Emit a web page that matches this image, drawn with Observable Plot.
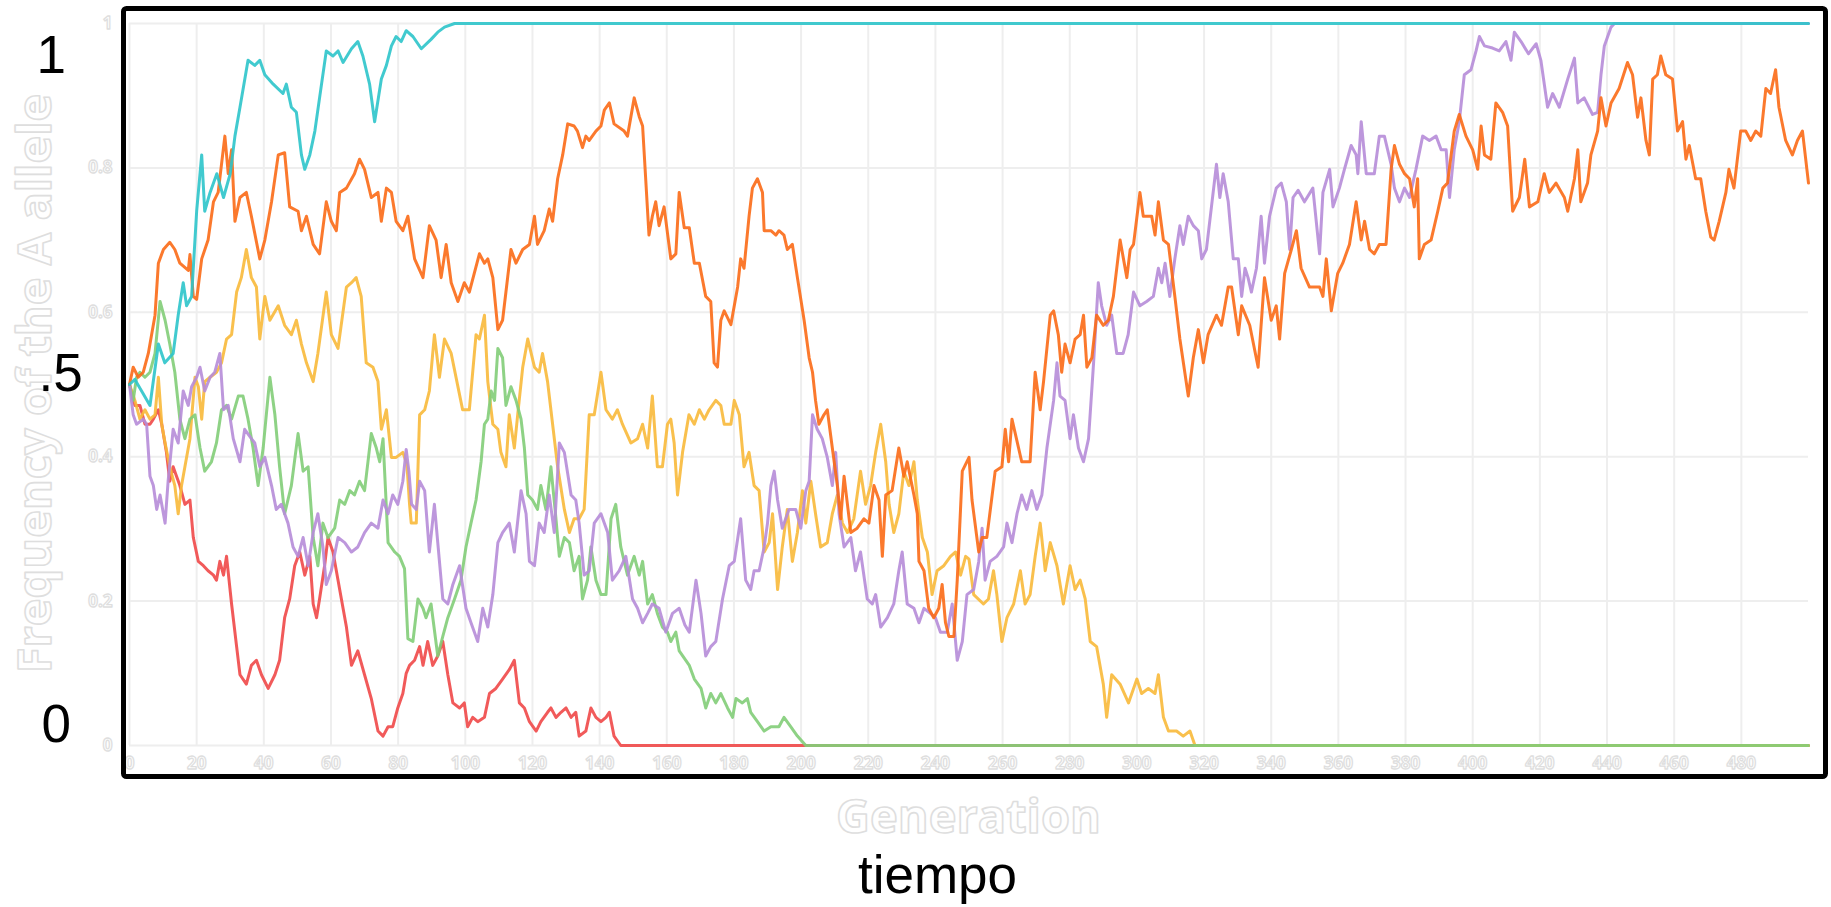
<!DOCTYPE html>
<html>
<head>
<meta charset="utf-8">
<script src="https://cdn.jsdelivr.net/npm/d3@7"></script>
<script src="https://cdn.jsdelivr.net/npm/@observablehq/plot@0.6"></script>
<style>
  html, body { margin: 0; padding: 0; background: #fff; overflow: hidden; }
  #chart svg { display: block; }
</style>
</head>
<body>
<div id="chart"></div>
<script>
// ---- tick labels -------------------------------------------------------
const xTicks = [0,20,40,60,80,100,120,140,160,180,200,220,240,260,280,300,320,340,360,380,400,420,440,460,480];
const yTicks = [0,0.2,0.4,0.6,0.8,1];
const yTickLabels = ["0","0.2","0.4","0.6","0.8","1"];
const bigLabels = ["1", ".5", "0"];          // annotations at y = 1, 0.5, 0
const bigLabelValues = [1, 0.5, 0];
const xTitle = "Generation";
const yTitle = "Frequency of the A allele";
const caption = "tiempo";

// ---- series: [generation, frequency of the A allele] -------------------
const cyan = [[0,0.5],[1.6,0.507],[3.6,0.491],[6.1,0.471],[8.6,0.556],[10.5,0.53],[13,0.543],[14.5,0.596],[16,0.641],[17,0.609],[18.5,0.622],[20,0.74],[21.5,0.818],[22.4,0.74],[24,0.766],[26,0.792],[28,0.759],[30,0.792],[31.4,0.844],[32.9,0.884],[35.3,0.949],[37.3,0.942],[38.8,0.949],[40.3,0.929],[42.8,0.916],[45.7,0.903],[46.7,0.916],[48.2,0.884],[49.7,0.877],[51.2,0.818],[52.2,0.798],[53.7,0.818],[55.2,0.851],[56.6,0.897],[58.6,0.962],[60.6,0.955],[62.1,0.962],[63.6,0.946],[66.1,0.965],[68,0.975],[69.5,0.955],[71.5,0.916],[73,0.864],[75,0.923],[76.5,0.942],[78,0.969],[79.4,0.982],[80.9,0.975],[82.4,0.99],[84.4,0.982],[86.9,0.965],[89.8,0.978],[91.8,0.988],[93.8,0.995],[96.8,1],[500,1]];

const orange = [[0,0.5],[1.1,0.524],[2.6,0.51],[4.1,0.517],[5.6,0.543],[7.6,0.596],[8.6,0.668],[10.1,0.687],[12,0.697],[13.5,0.687],[15,0.668],[17.5,0.658],[18,0.68],[19,0.622],[20,0.618],[21.5,0.674],[23.4,0.7],[25,0.753],[26.4,0.766],[28.4,0.844],[29.4,0.792],[30.4,0.825],[31.4,0.726],[32.9,0.759],[34.8,0.766],[36.3,0.733],[38.8,0.674],[40.3,0.7],[42.3,0.753],[44.3,0.818],[46.2,0.821],[47.7,0.746],[50.2,0.74],[51.2,0.713],[52.7,0.733],[54.7,0.694],[56.6,0.681],[58.6,0.753],[60.1,0.726],[61.6,0.713],[62.6,0.766],[64.6,0.772],[67,0.792],[68.5,0.812],[70,0.798],[72,0.759],[74,0.766],[75,0.726],[76.5,0.772],[78,0.766],[79.4,0.726],[81.4,0.713],[82.9,0.733],[84.9,0.674],[87.4,0.648],[89.3,0.72],[91.3,0.7],[92.8,0.648],[94.3,0.694],[95.8,0.641],[97.8,0.615],[99.7,0.641],[101.2,0.628],[104.2,0.681],[105.7,0.668],[106.7,0.674],[108.2,0.648],[109.7,0.576],[111.1,0.589],[113.6,0.687],[115.1,0.668],[117.1,0.687],[119.1,0.694],[120.6,0.733],[121.5,0.694],[123.5,0.713],[125,0.743],[126,0.726],[127.5,0.785],[129,0.818],[130.5,0.861],[132.4,0.858],[133.4,0.851],[134.9,0.828],[135.9,0.844],[136.9,0.838],[138.9,0.851],[140.4,0.858],[141.4,0.88],[142.9,0.89],[144.3,0.861],[147.3,0.851],[148.3,0.844],[150.3,0.897],[151.8,0.871],[152.8,0.858],[154.7,0.707],[155.7,0.733],[156.7,0.753],[157.7,0.72],[159.2,0.746],[161.2,0.674],[162.7,0.681],[163.7,0.766],[165.2,0.717],[166.7,0.717],[168.2,0.668],[169.7,0.668],[171.6,0.622],[173.1,0.615],[174.1,0.53],[175.1,0.524],[176.1,0.589],[177.1,0.602],[179.1,0.583],[181.1,0.635],[182,0.674],[183,0.661],[184.5,0.733],[185.5,0.772],[187,0.785],[188.5,0.766],[189,0.713],[191,0.713],[192.5,0.707],[193.4,0.713],[194.9,0.707],[195.9,0.687],[197.4,0.694],[198.9,0.648],[200.9,0.589],[202.4,0.537],[203.4,0.517],[204.3,0.478],[205.3,0.445],[206.8,0.458],[207.8,0.465],[209.3,0.412],[210.8,0.36],[211.8,0.314],[212.8,0.373],[213.8,0.334],[214.8,0.295],[216.7,0.301],[218.7,0.314],[220.2,0.308],[221.7,0.36],[223.2,0.34],[224.2,0.262],[225.2,0.347],[227.1,0.353],[229.1,0.412],[230.6,0.373],[231.6,0.393],[233.6,0.347],[234.6,0.321],[235.1,0.255],[236.6,0.242],[238,0.19],[239.5,0.177],[241,0.19],[242,0.223],[243,0.17],[244,0.151],[245.5,0.151],[246.5,0.229],[248,0.38],[250,0.399],[250.9,0.34],[252.9,0.268],[253.9,0.288],[255.3,0.288],[257.8,0.38],[259.8,0.386],[260.8,0.438],[261.8,0.393],[262.8,0.452],[265.7,0.393],[268.2,0.393],[269.7,0.517],[271.2,0.465],[272.2,0.504],[274.2,0.596],[275.2,0.602],[276.6,0.569],[277.6,0.517],[278.6,0.556],[280.1,0.53],[281.6,0.563],[283.1,0.569],[284.1,0.596],[285.1,0.524],[286.6,0.537],[288,0.596],[290,0.582],[291.5,0.589],[293,0.622],[295,0.7],[296,0.674],[297,0.648],[298,0.687],[299,0.694],[300.9,0.766],[301.9,0.733],[304.4,0.733],[305.4,0.707],[306.4,0.753],[307.9,0.7],[309.4,0.694],[311.3,0.622],[312.8,0.563],[315.3,0.484],[316.8,0.537],[318.3,0.576],[319.8,0.53],[321.2,0.569],[323.7,0.596],[325.2,0.582],[327.2,0.635],[328.2,0.635],[330.2,0.569],[331.2,0.609],[333.6,0.582],[336.1,0.524],[338,0.648],[340,0.589],[341.5,0.609],[342.5,0.563],[344,0.654],[346,0.687],[347.5,0.713],[348.9,0.661],[351.4,0.635],[354.4,0.635],[355.4,0.622],[356.4,0.674],[357.9,0.602],[359.8,0.654],[361.3,0.668],[363.3,0.694],[365.3,0.753],[366.8,0.7],[367.8,0.726],[369.3,0.687],[370.7,0.681],[372.2,0.694],[374.2,0.694],[375.7,0.798],[376.7,0.831],[378.2,0.805],[379.7,0.792],[381.2,0.785],[382.6,0.746],[383.6,0.785],[384.1,0.674],[385.6,0.694],[387.6,0.7],[389.6,0.74],[391.1,0.772],[392.5,0.779],[394.5,0.851],[396,0.874],[398,0.844],[400,0.825],[401.5,0.798],[402.5,0.858],[403.5,0.818],[405.4,0.812],[406.9,0.89],[408.9,0.877],[410.4,0.858],[411.9,0.74],[413.9,0.759],[415.5,0.812],[416.9,0.746],[419.4,0.753],[421.3,0.792],[422.8,0.766],[424.8,0.779],[427.3,0.759],[428.3,0.74],[430.3,0.785],[431.3,0.825],[432.2,0.753],[434.2,0.779],[435.2,0.818],[437.2,0.851],[438.2,0.897],[439.7,0.858],[441.2,0.89],[443.6,0.91],[446.1,0.946],[447.6,0.929],[449.1,0.87],[450.1,0.897],[451.6,0.838],[452.6,0.818],[453.6,0.923],[455,0.929],[456,0.955],[457.5,0.929],[459.5,0.923],[461,0.851],[462.5,0.864],[463.5,0.812],[464.5,0.831],[466.4,0.785],[467.9,0.785],[469.4,0.74],[470.9,0.704],[471.9,0.7],[473.4,0.726],[475.4,0.766],[476.3,0.798],[477.8,0.772],[479.8,0.851],[481.3,0.851],[482.8,0.838],[484.3,0.851],[485.8,0.844],[487.3,0.91],[488.7,0.903],[490.2,0.936],[491.2,0.884],[493.2,0.838],[495.2,0.818],[496.7,0.838],[498.2,0.851],[500,0.779]];

const purple = [[0,0.5],[1.1,0.458],[2.1,0.445],[4.1,0.452],[5.1,0.445],[6.1,0.373],[7.1,0.36],[8.1,0.327],[9.1,0.347],[10.6,0.308],[11.5,0.366],[13,0.438],[14.5,0.419],[16,0.491],[17.5,0.471],[18.5,0.497],[20,0.51],[21,0.524],[22.4,0.491],[24,0.51],[25.4,0.517],[26.9,0.543],[28,0.465],[29.4,0.471],[30.9,0.425],[32.9,0.393],[34.3,0.438],[36.3,0.425],[37.3,0.419],[38.8,0.386],[40.3,0.399],[42.3,0.36],[43.7,0.327],[45.2,0.334],[47.2,0.308],[48.7,0.275],[50.2,0.262],[51.7,0.288],[53.2,0.249],[54.7,0.295],[56.1,0.321],[57.6,0.275],[58.6,0.223],[60.1,0.242],[62.1,0.288],[64.1,0.281],[66.1,0.268],[68,0.275],[70,0.295],[72,0.308],[74,0.301],[75.5,0.34],[77,0.321],[78.4,0.347],[79.9,0.334],[81.4,0.366],[82.4,0.41],[83.2,0.38],[84,0.334],[85.4,0.327],[86.4,0.366],[87.9,0.353],[89.3,0.268],[90.8,0.334],[91.8,0.281],[93.3,0.203],[94.8,0.196],[96.3,0.223],[98.3,0.249],[100.2,0.19],[101.7,0.17],[103.7,0.144],[105.2,0.19],[106.7,0.164],[108.2,0.209],[109.7,0.281],[111.1,0.295],[113.1,0.308],[114.6,0.268],[116.6,0.353],[118.1,0.321],[119.1,0.255],[120.6,0.249],[122,0.308],[123.5,0.295],[125,0.347],[126.5,0.295],[128,0.419],[129.5,0.406],[131.5,0.347],[132.9,0.34],[133.9,0.308],[135.4,0.236],[136.9,0.242],[138.4,0.308],[140.4,0.321],[142.4,0.295],[143.8,0.229],[145.8,0.242],[147.8,0.262],[149.8,0.203],[151.3,0.19],[152.8,0.17],[154.3,0.183],[155.7,0.196],[157.7,0.19],[159.7,0.157],[161.7,0.183],[163.7,0.19],[165.4,0.167],[166.7,0.157],[168.7,0.229],[170.2,0.183],[171.6,0.124],[173.1,0.137],[174.6,0.144],[176.6,0.203],[178.6,0.249],[180.1,0.255],[182,0.314],[183.5,0.229],[185,0.216],[186,0.242],[187.5,0.242],[189,0.275],[190,0.308],[191,0.36],[192,0.38],[193,0.34],[194.4,0.301],[196.4,0.327],[198.4,0.327],[199.9,0.301],[201.4,0.353],[202.4,0.366],[203.4,0.458],[204.8,0.438],[206.3,0.425],[207.8,0.399],[209.3,0.36],[210.3,0.406],[211.3,0.321],[212.8,0.275],[214.8,0.288],[216.2,0.242],[217.7,0.268],[219.7,0.203],[221.2,0.196],[222.2,0.209],[223.7,0.164],[225.7,0.177],[227.6,0.196],[229.1,0.242],[230.1,0.268],[231.6,0.196],[233.6,0.19],[235.1,0.17],[236.6,0.19],[238.5,0.183],[240,0.177],[241.5,0.157],[243.5,0.157],[245,0.196],[246.5,0.118],[248,0.144],[249.4,0.209],[251.4,0.216],[252.9,0.255],[253.9,0.301],[254.8,0.229],[256.3,0.255],[258.3,0.262],[260.3,0.275],[261.3,0.308],[262.8,0.281],[264.3,0.321],[265.7,0.347],[267.2,0.327],[268.7,0.353],[270.2,0.327],[271.7,0.347],[273.2,0.412],[275.2,0.478],[276.2,0.53],[277.1,0.484],[278.6,0.478],[280.1,0.425],[281.1,0.458],[282.6,0.412],[284.1,0.393],[285.6,0.425],[287.1,0.53],[288.5,0.641],[289.5,0.609],[291,0.582],[292.5,0.596],[294,0.543],[295.9,0.543],[297.4,0.569],[299,0.628],[300.9,0.609],[302.9,0.615],[304.9,0.622],[306.4,0.661],[307.4,0.641],[308.4,0.668],[309.8,0.622],[311.3,0.674],[312.8,0.72],[313.8,0.694],[315.3,0.733],[316.8,0.72],[318.3,0.713],[319.3,0.674],[320.7,0.687],[322.2,0.746],[323.7,0.805],[324.7,0.759],[325.7,0.792],[327.2,0.753],[328.7,0.674],[330.2,0.674],[331.2,0.622],[332.2,0.661],[333.1,0.648],[334.1,0.628],[335.6,0.661],[337,0.733],[338,0.668],[339.5,0.733],[341.5,0.772],[343,0.779],[344.5,0.753],[345.5,0.687],[346.5,0.759],[348,0.769],[349.9,0.753],[352.4,0.772],[354.4,0.681],[355.4,0.766],[357.4,0.798],[358.4,0.746],[360.3,0.772],[361.8,0.798],[363.8,0.831],[365.3,0.818],[365.8,0.792],[366.8,0.864],[368.3,0.792],[370.7,0.792],[372.2,0.844],[373.7,0.844],[375.7,0.805],[376.7,0.772],[378.2,0.753],[379.7,0.772],[381.2,0.759],[383.1,0.798],[385.1,0.844],[387.1,0.838],[389.1,0.844],[390.6,0.825],[392.1,0.825],[393.1,0.759],[394.5,0.825],[396,0.864],[397.5,0.929],[399.5,0.936],[401,0.962],[402,0.982],[403.5,0.969],[405.9,0.966],[407.9,0.962],[409.9,0.975],[411.4,0.949],[412.4,0.988],[414.4,0.975],[416.6,0.958],[418.9,0.972],[420.3,0.949],[422.3,0.884],[423.8,0.903],[425.8,0.884],[428.3,0.923],[430.3,0.952],[431.3,0.89],[433.2,0.897],[435.7,0.874],[437.2,0.877],[438.2,0.929],[439.2,0.969],[441.2,0.995],[442.2,1],[500,1]];

const yellow = [[0,0.5],[1.6,0.478],[3.1,0.452],[4.6,0.465],[6.1,0.452],[7.6,0.458],[8.6,0.51],[9.6,0.445],[10.6,0.419],[12,0.386],[13.5,0.36],[14.5,0.321],[15.5,0.36],[16.5,0.386],[18,0.425],[19.5,0.51],[20.5,0.497],[21.5,0.452],[22.4,0.504],[24,0.51],[25.9,0.517],[27.4,0.53],[28.9,0.563],[30.4,0.569],[31.9,0.628],[33.3,0.648],[34.8,0.687],[36.3,0.648],[37.8,0.635],[38.8,0.563],[40.3,0.622],[41.8,0.589],[44.3,0.609],[46.2,0.582],[48.2,0.569],[49.7,0.589],[51.2,0.556],[52.7,0.53],[54.7,0.504],[56.1,0.543],[58.6,0.628],[60.1,0.569],[62.1,0.55],[64.6,0.635],[66.1,0.641],[67.5,0.648],[69,0.622],[70.5,0.53],[72.5,0.524],[74,0.504],[75,0.438],[76.5,0.465],[78,0.399],[79.4,0.399],[81.4,0.406],[82.6,0.39],[83.4,0.334],[83.9,0.308],[85.4,0.308],[86.4,0.458],[87.9,0.465],[89.3,0.491],[90.8,0.569],[92.3,0.51],[93.8,0.563],[95.8,0.543],[97.8,0.497],[99.2,0.465],[101.2,0.465],[103.2,0.569],[104.2,0.563],[105.7,0.596],[106.7,0.504],[108.2,0.445],[109.7,0.438],[110.6,0.406],[112.1,0.386],[113.1,0.458],[114.6,0.412],[115.6,0.458],[117.1,0.524],[118.6,0.563],[120.6,0.524],[122,0.517],[123,0.543],[124.5,0.504],[126,0.445],[127.5,0.386],[129.5,0.327],[131,0.295],[132.4,0.314],[133.9,0.314],[135.4,0.327],[136.9,0.458],[138.4,0.458],[140.4,0.517],[141.9,0.465],[143.8,0.452],[145.3,0.465],[146.8,0.445],[149.3,0.419],[151.3,0.425],[152.8,0.445],[154.3,0.412],[155.7,0.484],[157.2,0.386],[158.7,0.386],[160.2,0.445],[161.2,0.452],[162.2,0.419],[163.2,0.347],[164.7,0.406],[166.6,0.458],[168.2,0.445],[169.7,0.465],[171.2,0.452],[172.6,0.465],[174.6,0.478],[176.1,0.471],[177.1,0.445],[179.1,0.445],[180.1,0.478],[181.6,0.458],[183,0.386],[184.5,0.406],[186,0.36],[187.5,0.353],[189,0.268],[190.5,0.281],[191.5,0.321],[193,0.216],[194.4,0.275],[195.9,0.327],[197.4,0.255],[198.9,0.295],[200.4,0.353],[201.4,0.308],[202.9,0.366],[204.3,0.321],[205.8,0.275],[207.8,0.281],[209.3,0.321],[210.8,0.347],[212.3,0.308],[213.8,0.295],[215.7,0.314],[217.7,0.38],[219.2,0.334],[220.7,0.36],[222.2,0.406],[223.7,0.445],[225.2,0.393],[226.2,0.334],[227.6,0.295],[229.1,0.321],[230.6,0.38],[232.1,0.36],[233.6,0.393],[234.6,0.34],[236.1,0.288],[237.6,0.268],[239,0.209],[240.5,0.242],[242.5,0.249],[244.5,0.262],[246,0.268],[247.5,0.236],[249,0.262],[250,0.258],[251.4,0.209],[254.3,0.196],[255.8,0.203],[257.3,0.242],[258.3,0.209],[259.8,0.144],[261.3,0.177],[263.3,0.196],[265.3,0.242],[266.7,0.196],[268.2,0.209],[269.7,0.262],[271.2,0.308],[272.7,0.242],[274.2,0.281],[276.2,0.249],[278.1,0.196],[280.1,0.249],[281.6,0.216],[283.1,0.229],[284.6,0.203],[286.1,0.144],[288,0.137],[290,0.085],[291,0.039],[292.5,0.098],[295,0.085],[297.5,0.059],[300,0.092],[301.4,0.072],[303.4,0.079],[305.4,0.072],[306.4,0.098],[307.9,0.039],[309.4,0.02],[311.8,0.02],[313.8,0.013],[315.8,0.02],[317.3,0],[500,0]];

const green = [[0,0.5],[1.1,0.478],[2.1,0.51],[3.1,0.517],[4.6,0.51],[6.1,0.517],[7.6,0.543],[9.1,0.615],[10.6,0.589],[12,0.556],[13.5,0.517],[15,0.452],[16.5,0.425],[18,0.452],[19.5,0.458],[21,0.412],[22.4,0.38],[24.4,0.393],[25.9,0.419],[27.4,0.465],[28.9,0.471],[30.4,0.452],[32.4,0.484],[33.8,0.484],[35.3,0.452],[36.8,0.412],[38.3,0.36],[39.8,0.412],[41.8,0.51],[43.3,0.458],[44.7,0.386],[46.2,0.321],[48.2,0.36],[50.2,0.432],[51.7,0.38],[53.2,0.386],[54.7,0.288],[56.1,0.249],[57.6,0.308],[59.1,0.288],[61.1,0.301],[62.6,0.34],[64.1,0.334],[65.6,0.353],[67,0.347],[68.5,0.366],[70,0.353],[72,0.432],[73.5,0.412],[74.5,0.393],[75.5,0.425],[77,0.281],[79,0.268],[80.4,0.262],[81.9,0.245],[82.9,0.148],[84.4,0.144],[85.9,0.203],[87.4,0.19],[88.3,0.177],[89.8,0.196],[91.8,0.124],[93.3,0.151],[94.8,0.177],[96.8,0.203],[98.7,0.229],[100.2,0.275],[101.7,0.308],[103.2,0.34],[104.7,0.393],[105.7,0.445],[106.7,0.452],[107.7,0.491],[108.7,0.478],[109.7,0.55],[111.1,0.537],[112.1,0.471],[113.6,0.497],[115.1,0.478],[116.6,0.452],[117.6,0.412],[118.6,0.347],[120,0.34],[121.5,0.327],[122.5,0.36],[124,0.327],[125.5,0.386],[127,0.314],[128,0.262],[129.5,0.288],[131,0.281],[132.4,0.242],[133.9,0.262],[134.9,0.203],[136.4,0.229],[137.4,0.275],[138.9,0.229],[140.4,0.209],[141.9,0.209],[143.4,0.314],[144.8,0.334],[146.3,0.275],[148.3,0.236],[150.3,0.262],[151.8,0.236],[152.8,0.255],[154.3,0.196],[155.7,0.209],[157.2,0.183],[158.7,0.164],[160.2,0.157],[161.2,0.144],[162.7,0.157],[163.7,0.131],[165.2,0.121],[166.7,0.111],[168.2,0.092],[170.2,0.079],[171.6,0.052],[173.1,0.072],[174.6,0.059],[176.1,0.072],[178.1,0.052],[179.6,0.039],[180.6,0.065],[182.5,0.059],[184,0.065],[185,0.046],[187,0.033],[189,0.02],[191,0.026],[193.4,0.026],[194.9,0.039],[196.9,0.026],[198.9,0.013],[201.4,0],[500,0]];

const red = [[0,0.5],[1.6,0.471],[3.1,0.471],[4.6,0.445],[6.1,0.445],[7.1,0.452],[8.6,0.465],[9.6,0.445],[11,0.406],[12,0.366],[13,0.386],[14,0.373],[15,0.36],[16.5,0.334],[18,0.34],[19,0.288],[20.5,0.255],[22,0.249],[23.4,0.242],[25,0.236],[25.9,0.229],[26.9,0.255],[28,0.236],[28.9,0.262],[30.4,0.196],[31.9,0.137],[32.9,0.098],[34.8,0.085],[36.3,0.111],[37.8,0.118],[39.3,0.098],[41.3,0.079],[43.3,0.098],[44.7,0.118],[46.2,0.177],[47.7,0.203],[49.2,0.249],[50.7,0.268],[52.2,0.236],[53.7,0.262],[54.7,0.196],[55.7,0.177],[56.6,0.203],[58.1,0.249],[59.1,0.288],[60.6,0.268],[62.1,0.229],[63.1,0.203],[64.6,0.164],[66.1,0.111],[68,0.131],[70,0.098],[72,0.065],[74,0.02],[75.5,0.013],[77,0.026],[78.4,0.026],[79.9,0.052],[81.4,0.072],[82.4,0.1],[83.4,0.111],[84.9,0.118],[86.4,0.137],[87.4,0.111],[88.8,0.144],[90.3,0.111],[91.8,0.124],[93.3,0.144],[94.8,0.098],[96.3,0.059],[98.3,0.052],[99.7,0.059],[100.7,0.026],[102.2,0.039],[103.7,0.033],[105.7,0.039],[107.2,0.072],[109.1,0.079],[111.1,0.092],[113.1,0.105],[114.6,0.118],[116.1,0.059],[117.6,0.052],[119.1,0.033],[121.1,0.02],[122.5,0.033],[124.5,0.046],[125.5,0.052],[127,0.039],[128.5,0.046],[130,0.052],[131.5,0.039],[132.9,0.046],[133.9,0.013],[135.9,0.02],[137.4,0.052],[138.9,0.039],[140.4,0.033],[141.9,0.039],[142.9,0.046],[144.3,0.013],[146.3,0],[500,0]];

// drawing order (bottom -> top) and colours
const seriesNames  = ["red", "yellow", "green", "purple", "orange", "cyan"];
const seriesData   = [red, yellow, green, purple, orange, cyan];
const seriesColors = ["#ef4848", "#f8b93a", "#82cd78", "#b68cd8", "#fb6a16", "#2cc4ca"];

// ---- build table -------------------------------------------------------
const rows = seriesData.flatMap((pts, i) =>
  pts.map(([gen, freq]) => ({series: seriesNames[i], gen, freq})));

const faint = {fill: "white", stroke: "#dedede", strokeWidth: 1.3, paintOrder: "normal", fontFamily: "Open Sans, Liberation Sans, sans-serif"};

const plot = Plot.plot({
  width: 1831,
  height: 907,
  marginLeft: 123,
  marginRight: 6,
  marginTop: 8,
  marginBottom: 131,
  style: {fontFamily: "Liberation Sans, Arial, sans-serif", background: "white", overflow: "visible"},
  x: {domain: [0, 500], insetLeft: 6, insetRight: 17, axis: null},
  y: {domain: [0, 1], insetTop: 15, insetBottom: 31, axis: null},
  marks: [
    // grid
    Plot.ruleX(xTicks, {x: d => d, y1: 0, y2: 1, stroke: "#eeeeee", strokeWidth: 2}),
    Plot.ruleY(yTicks, {y: d => d, x1: 0, x2: 500, stroke: "#eeeeee", strokeWidth: 2}),
    // faint tick labels
    Plot.text(yTicks, {y: d => d, text: (d, i) => yTickLabels[i], frameAnchor: "left", dx: -11,
      textAnchor: "end", lineAnchor: "middle", fontSize: 17, fontWeight: "bold", ...faint}),
    Plot.text(xTicks, {x: d => d, text: d => String(d), frameAnchor: "bottom", dy: -13,
      textAnchor: "middle", lineAnchor: "middle", fontSize: 17, fontWeight: "bold", ...faint}),
    // series
    ...seriesNames.map((name, i) =>
      Plot.line(rows.filter(r => r.series === name), {
        x: "gen", y: "freq", stroke: seriesColors[i], strokeWidth: 3,
        strokeOpacity: 0.9, strokeLinejoin: "round"
      })),
    // frame
    Plot.frame({stroke: "black", strokeWidth: 5, rx: 3}),
    // faint axis titles
    Plot.text([yTitle], {frameAnchor: "left", dx: -88, dy: -9, rotate: -90, textAnchor: "middle",
      lineAnchor: "middle", fontSize: 47, fontWeight: "bold", ...faint, strokeWidth: 1.6}),
    Plot.text([xTitle], {frameAnchor: "bottom", dx: -6, dy: 41, textAnchor: "middle",
      lineAnchor: "middle", fontSize: 47, fontWeight: "bold", ...faint, strokeWidth: 1.6}),
    // big black annotations
    Plot.text([bigLabelValues[0]], {y: d => d, text: [bigLabels[0]], frameAnchor: "left",
      textAnchor: "start", lineAnchor: "middle", dx: -87, dy: 33, fontSize: 53, fill: "black"}),
    Plot.text([bigLabelValues[1]], {y: d => d, text: [bigLabels[1]], frameAnchor: "left",
      textAnchor: "start", lineAnchor: "middle", dx: -85, dy: -10, fontSize: 53, fill: "black"}),
    Plot.text([bigLabelValues[2]], {y: d => d, text: [bigLabels[2]], frameAnchor: "left",
      textAnchor: "start", lineAnchor: "middle", dx: -82, dy: -20, fontSize: 53, fill: "black"}),
    // caption
    Plot.text([caption], {frameAnchor: "bottom", dx: -37, dy: 100, textAnchor: "middle",
      lineAnchor: "middle", fontSize: 53, fill: "black"})
  ]
});

document.getElementById("chart").appendChild(plot);
</script>
</body>
</html>
